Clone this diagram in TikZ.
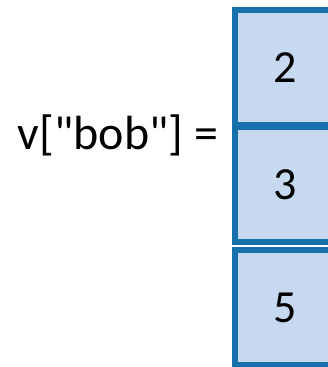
\documentclass[tikz,border=0pt]{standalone}
\usepackage{fontspec}
\setmainfont{Carlito}[Ligatures=TeXOff]
\definecolor{cellborder}{RGB}{22,113,170}
\definecolor{cellfill}{RGB}{198,217,240}
\begin{document}
\begin{tikzpicture}[x=1pt,y=-1pt,
  cell/.style={draw=cellborder, fill=cellfill, line width=5.5pt, minimum width=100pt, minimum height=115pt, inner sep=0pt, font=\fontsize{46}{50}\selectfont},
  lbl/.style={anchor=base, inner sep=0pt, font=\fontsize{48}{52}\selectfont}]
\useasboundingbox (0,0) rectangle (328,367);
\clip (0,0) rectangle (328,367);
\node[cell] (c1) at (285,67.5) {2};
\node[cell] (c2) at (285,184.5) {3};
\node[cell] (c3) at (285,307.5) {5};
\node[lbl] (v) at (118,149) {v["bob"] =};
\end{tikzpicture}
\end{document}
